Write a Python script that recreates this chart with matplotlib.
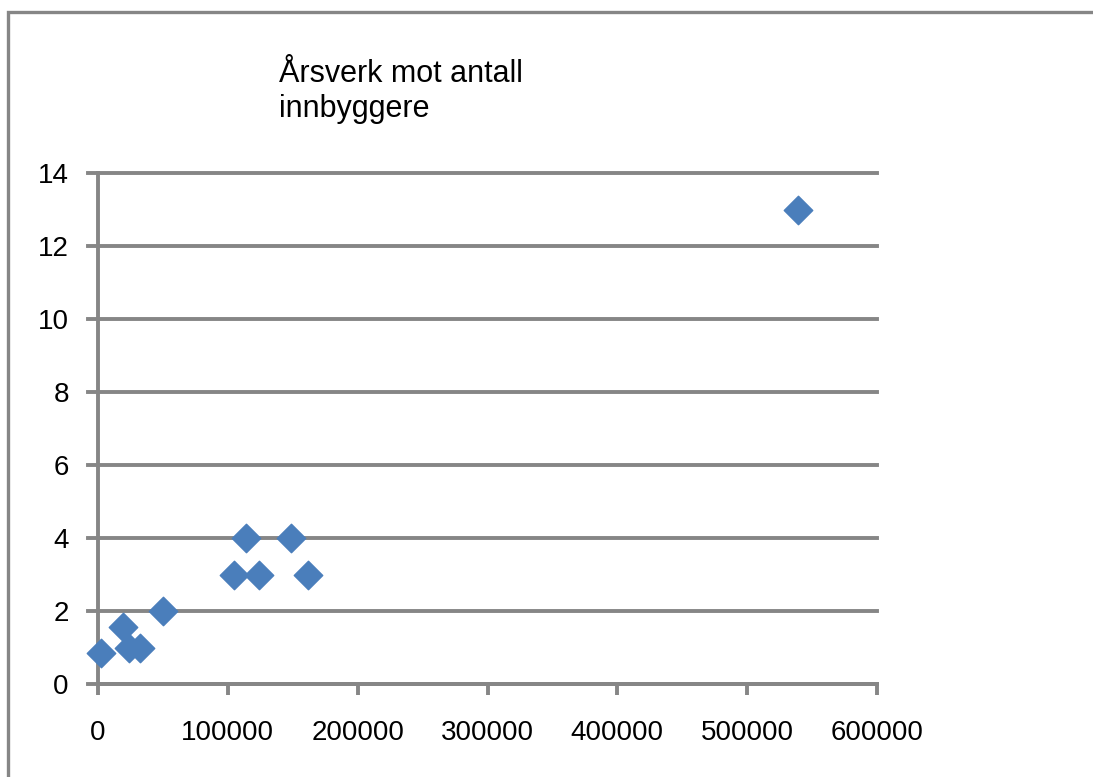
import matplotlib.pyplot as plt
from matplotlib.patches import Rectangle

innbyggere = [2000, 19500, 24000, 32500, 50000, 105000, 114000, 124000,
              149000, 162000, 539000]
aarsverk = [0.85, 1.55, 1.0, 1.0, 2.0, 3.0, 4.0, 3.0, 4.0, 3.0, 13.0]
x_ticks = [0, 100000, 200000, 300000, 400000, 500000, 600000]
y_ticks = [0, 2, 4, 6, 8, 10, 12, 14]
title_lines = ['Årsverk mot antall', 'innbyggere']

grid_color = '#868686'
point_color = '#4A7EBB'
lw = 2.8

plt.rcParams['font.family'] = ['Liberation Sans', 'DejaVu Sans']

fig = plt.figure(figsize=(10.93, 7.77), dpi=100)
ax = fig.add_axes([98 / 1093, 1 - 684 / 777, (877 - 98) / 1093, (684 - 173) / 777])

# outer chart frame
fig.patches.append(Rectangle((8 / 1093, -0.01), 1.1, 1 - 12 / 777 + 0.01,
                             transform=fig.transFigure, fill=False,
                             edgecolor=grid_color, linewidth=2.4))

ax.scatter(innbyggere, aarsverk, marker='D', s=210, color=point_color,
           edgecolors=point_color, zorder=3, clip_on=False)

ax.set_xlim(0, 600000)
ax.set_ylim(0, 14)
ax.set_xticks(x_ticks)
ax.set_yticks(y_ticks)
ax.set_xticklabels([str(v) for v in x_ticks])
ax.set_yticklabels([str(v) for v in y_ticks])
ax.tick_params(axis='both', labelsize=20, colors=grid_color, labelcolor='black',
               width=lw, length=8)
ax.tick_params(axis='y', length=0, pad=21)
ax.tick_params(axis='x', pad=18)

ax.grid(axis='y', color=grid_color, linewidth=lw)
for gl in ax.get_ygridlines():
    gl.set_clip_on(False)
ax.set_axisbelow(True)
for side in ['top', 'right']:
    ax.spines[side].set_visible(False)
for side in ['left', 'bottom']:
    ax.spines[side].set_color(grid_color)
    ax.spines[side].set_linewidth(lw)

# gridlines stick out a little left of the axis
for v in y_ticks:
    ax.plot([-8000, 0], [v, v], color=grid_color, linewidth=lw, clip_on=False)

fig.text(279 / 1093, 1 - 82 / 777, title_lines[0], fontsize=22,
         ha='left', va='baseline')
fig.text(279 / 1093, 1 - 117 / 777, title_lines[1], fontsize=22,
         ha='left', va='baseline')

plt.savefig('out.png')
